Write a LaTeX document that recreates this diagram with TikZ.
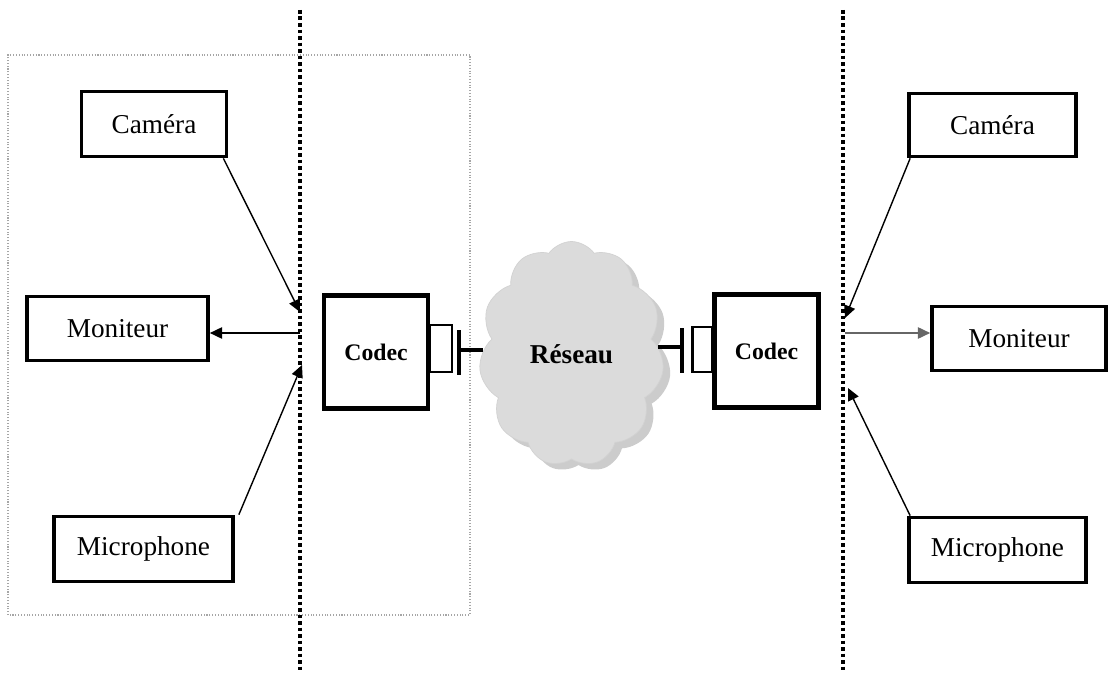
\documentclass[tikz,border=0pt]{standalone}
\usepackage{fontspec}
\setmainfont{Liberation Serif}
\usepackage{tikz}
\usetikzlibrary{shapes.symbols,shadows,arrows.meta}

\begin{document}
\begin{tikzpicture}[
  device/.style={draw, line width=2.1pt, inner sep=0pt,
    font=\fontsize{15.5}{18}\selectfont},
  codecbox/.style={draw, line width=2.6pt, minimum width=2.08cm,
    minimum height=2.26cm, inner sep=0pt,
    font=\fontsize{13.5}{16}\selectfont\bfseries},
  port/.style={draw, line width=1.4pt, inner sep=0pt},
  plug/.style={line width=2.6pt},
  border/.style={line width=2.3pt, dash pattern=on 2pt off 1.7pt},
  link/.style={line width=0.8pt, -{Triangle[length=7pt,width=6.5pt]}}]
 \useasboundingbox (0,0) rectangle (22.26,13.5);

 % the local site
 \draw[gray!70, line width=0.6pt, densely dotted] (0.16,1.2) rectangle (9.4,12.4);
 \draw[border] (6.0,13.3) -- (6.0,0.1);
 \draw[border] (16.86,13.3) -- (16.86,0.1);

 \node[device, minimum width=2.9cm, minimum height=1.3cm] (camL) at (3.08,11.02) {Caméra};
 \node[device, minimum width=3.62cm, minimum height=1.28cm] (monL) at (2.35,6.93) {Moniteur};
 \node[device, minimum width=3.58cm, minimum height=1.3cm] (micL) at (2.87,2.52) {Microphone};
 \node[codecbox] (codecL) at (7.52,6.46) {Codec};
 \node[port, minimum width=0.44cm, minimum height=0.94cm] (portL) at (8.82,6.53) {};

 % the remote site
 \node[device, minimum width=3.34cm, minimum height=1.26cm] (camR) at (19.85,11.0) {Caméra};
 \node[device, minimum width=3.48cm, minimum height=1.28cm] (monR) at (20.38,6.73) {Moniteur};
 \node[device, minimum width=3.54cm, minimum height=1.3cm] (micR) at (19.95,2.5) {Microphone};
 \node[codecbox] (codecR) at (15.33,6.48) {Codec};
 \node[port, minimum width=0.4cm, minimum height=0.9cm] (portR) at (14.05,6.51) {};

 % network
 \node[cloud, cloud puffs=11, cloud puff arc=110, draw=gray!35, fill=gray!28,
  minimum width=3.7cm, minimum height=4.5cm, inner sep=0pt,
  drop shadow={shadow xshift=0.14cm, shadow yshift=-0.12cm, fill=gray!50, opacity=0.8},
  font=\fontsize{15.5}{18}\selectfont\bfseries] (net) at (11.43,6.42) {Réseau};

 % plugs
 \coordinate (barL) at (9.18,6.5);
 \coordinate (barR) at (13.64,6.56);
 \draw[plug] ([yshift=0.4cm]barL) -- ([yshift=-0.5cm]barL);
 \draw[line width=1.8pt] (barL) -- (9.66,6.5);
 \draw[plug] ([yshift=0.38cm]barR) -- ([yshift=-0.52cm]barR);
 \draw[line width=1.8pt] (barR) -- (13.16,6.56);

 % taps on the borders
 \coordinate (inCamL) at (6.0,7.26);
 \coordinate (outMonL) at (6.0,6.84);
 \coordinate (inMicL) at (6.04,6.2);
 \coordinate (inCamR) at (16.9,7.14);
 \coordinate (outMonR) at (16.9,6.84);
 \coordinate (inMicR) at (16.96,5.74);

 \draw[link] ([xshift=-0.1cm]camL.south east) -- (inCamL);
 \draw[link] (outMonL) -- (outMonL -| monL.east);
 \draw[link] ([xshift=0.08cm]micL.north east) -- (inMicL);
 \draw[link] ([xshift=0.06cm]camR.south west) -- (inCamR);
 \draw[link, gray!80!black] (outMonR) -- (outMonR -| monR.west);
 \draw[link] ([xshift=0.06cm]micR.north west) -- (inMicR);
\end{tikzpicture}
\end{document}
